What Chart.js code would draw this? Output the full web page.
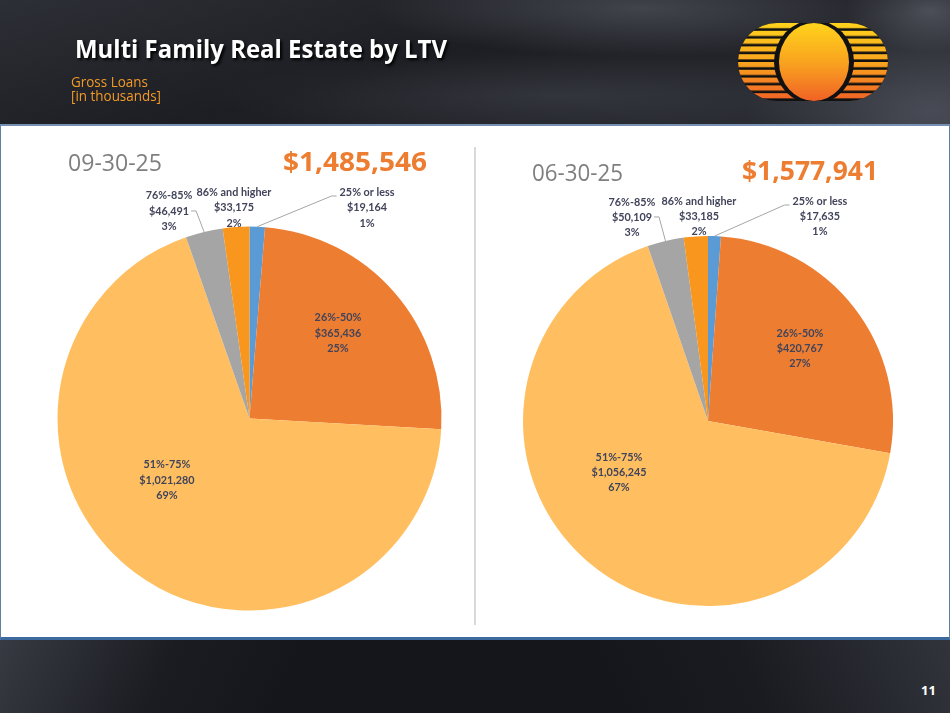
<!DOCTYPE html>
<html>
<head>
<meta charset="utf-8">
<title>Multi Family Real Estate by LTV</title>
<script src="https://cdn.jsdelivr.net/npm/chart.js@4.4.1/dist/chart.umd.min.js"></script>
<style>
html, body { margin: 0; padding: 0; }
body {
    width: 950px; height: 713px; position: relative; overflow: hidden;
    background: #1b1c21; font-family: "Open Sans", sans-serif;
}
#header {
    position: absolute; left: 0; top: 0; width: 950px; height: 126px;
    background:
        radial-gradient(ellipse 380px 70px at 640px 8px, rgba(150,155,172,0.30), rgba(150,155,172,0) 70%),
        radial-gradient(ellipse 120px 60px at 930px 10px, rgba(150,155,170,0.35), rgba(0,0,0,0) 70%),
        radial-gradient(ellipse 260px 150px at 930px 110px, rgba(130,135,150,0.35), rgba(0,0,0,0) 70%),
        radial-gradient(ellipse 500px 60px at 560px 95px, rgba(110,114,128,0.22), rgba(0,0,0,0) 70%),
        linear-gradient(165deg, #2d2f36 0%, #1d1e23 45%, #2b2d34 100%);
}
#footer {
    position: absolute; left: 0; top: 638px; width: 950px; height: 75px;
    background:
        linear-gradient(115deg, rgba(85,88,100,0.55) 0%, rgba(45,47,55,0.25) 18%, rgba(0,0,0,0) 32%),
        linear-gradient(245deg, rgba(85,88,100,0.45) 0%, rgba(45,47,55,0.2) 22%, rgba(0,0,0,0) 38%),
        #15161b;
}
#panel {
    position: absolute; left: 0; top: 124px; width: 950px; height: 516px;
    box-sizing: border-box; background: #fff;
    border-top: 2px solid #7590b0; border-bottom: 3px solid #3d6a9e;
    border-left: 1px solid #5e7fa6; border-right: 1px solid #5e7fa6;
}
#divider { position: absolute; left: 474px; top: 147px; width: 2px; height: 478px; background: #d9d9d9; }
.txt { position: absolute; white-space: nowrap; display: inline-block; transform-origin: left center; line-height: 1; }
#title { left: 75px; top: 36px; font-size: 25px; font-weight: 700; color: #fff; text-shadow: 2px 2px 3px #000; }
#sub { left: 71px; top: 75px; font-size: 14px; line-height: 14px; color: #f39a26; }
.date { font-size: 23px; color: #7f7f7f; }
.total { font-size: 27px; font-weight: 700; color: #ed7d31; }
#page { left: 921px; top: 684px; font-size: 13px; font-weight: 700; color: #fff; }
.box { position: absolute; top: 140px; width: 474px; height: 490px; }
#logo { position: absolute; left: 738px; top: 23px; }
</style>
</head>
<body>
<div id="header"></div>
<div id="footer"></div>
<div id="panel"></div>
<div id="divider"></div>

<svg id="logo" width="150" height="78" viewBox="0 0 150 78">
  <defs>
    <linearGradient id="sun" x1="0" y1="0" x2="0" y2="1">
      <stop offset="0" stop-color="#ffd31c"/>
      <stop offset="0.5" stop-color="#f9a41f"/>
      <stop offset="1" stop-color="#f06226"/>
    </linearGradient>
    <clipPath id="shape"><rect x="0" y="0" width="150" height="78" rx="39" ry="39"/></clipPath>
    <pattern id="stripes" width="150" height="7.8" patternUnits="userSpaceOnUse">
      <rect x="0" y="0" width="150" height="5.2" fill="#fff"/>
    </pattern>
    <mask id="bands"><rect x="0" y="0" width="150" height="78" fill="url(#stripes)"/></mask>
  </defs>
  <g clip-path="url(#shape)">
    <rect x="0" y="0" width="150" height="78" fill="#111"/>
    <rect x="0" y="0" width="150" height="78" fill="url(#sun)" mask="url(#bands)"/>
    <ellipse cx="76" cy="39" rx="40" ry="42" fill="#111"/>
    <ellipse cx="76" cy="39" rx="35" ry="39" fill="url(#sun)"/>
  </g>
</svg>

<div class="txt" id="title">Multi Family Real Estate by LTV</div>
<div class="txt" id="sub">Gross Loans<br>[in thousands]</div>

<div class="txt date" id="date1" style="left:68px; top:151px;">09-30-25</div>
<div class="txt total" id="total1" style="left:283px; top:147px;"></div>
<div class="txt date" id="date2" style="left:532px; top:161px;">06-30-25</div>
<div class="txt total" id="total2" style="left:742px; top:156px;"></div>

<div class="box" style="left:0px;"><canvas id="pieSep"></canvas></div>
<div class="box" style="left:476px;"><canvas id="pieJun"></canvas></div>

<div class="txt" id="page">11</div>

<script>
// LTV buckets, gross loans in thousands
var ltvBands = ["25% or less", "26%-50%", "51%-75%", "76%-85%", "86% and higher"];
var sepValues = [19164, 365436, 1021280, 46491, 33175];
var junValues = [17635, 420767, 1056245, 50109, 33185];
var sliceColors = ["#5b9bd5", "#ed7d31", "#ffbf60", "#a5a5a5", "#f8961d"];

function money(v) {
    return "$" + v.toLocaleString("en-US");
}

function sum(arr) {
    return arr.reduce(function(a, b) { return a + b; }, 0);
}

// squeeze a text box to a given width (the original uses a narrow font)
function fitWidth(id, w) {
    var el = document.getElementById(id);
    var natural = el.getBoundingClientRect().width;
    el.style.transform = "scaleX(" + (w / natural) + ")";
}

var sliceLabels = {
    id: "sliceLabels",
    afterDatasetsDraw: function(chart, args, opts) {
        var ctx = chart.ctx;
        var arcs = chart.getDatasetMeta(0).data;
        var values = chart.data.datasets[0].data;
        var total = sum(values);
        ctx.save();
        ctx.font = opts.font;
        ctx.fillStyle = opts.color;
        ctx.textAlign = "center";
        ctx.textBaseline = "middle";
        arcs.forEach(function(arc, i) {
            var spot = opts.spots[i];
            var r = arc.outerRadius;
            var x = arc.x + spot.dx * r;
            var y = arc.y + spot.dy * r;
            var lines = [chart.data.labels[i], money(values[i]), Math.round(values[i] / total * 100) + "%"];
            lines.forEach(function(t, k) {
                ctx.save();
                ctx.translate(x, y + (k - 1) * opts.lineHeight);
                ctx.scale(opts.squeeze, 1);
                ctx.fillText(t, 0, 0);
                ctx.restore();
            });
            if (spot.leader) {
                var mid = (arc.startAngle + arc.endAngle) / 2;
                var ex = arc.x + Math.cos(mid) * r;
                var ey = arc.y + Math.sin(mid) * r;
                var sx, sy, tx;
                if (spot.leader === "left") {
                    sx = x - ctx.measureText(lines[0]).width * opts.squeeze / 2 - 3;
                    sy = y - opts.lineHeight + 4;
                    tx = sx - 5;
                } else {
                    sx = x + ctx.measureText(lines[1]).width * opts.squeeze / 2 + 2;
                    sy = y;
                    tx = sx + 5;
                }
                ctx.beginPath();
                ctx.moveTo(sx, sy);
                ctx.lineTo(tx, sy);
                ctx.lineTo(ex, ey);
                ctx.strokeStyle = opts.leaderColor;
                ctx.lineWidth = 1;
                ctx.stroke();
            }
        });
        ctx.restore();
    }
};

function drawPie(canvasId, values, padding, spots, lineHeight) {
    var ctx = document.getElementById(canvasId).getContext("2d");
    return new Chart(ctx, {
        type: "pie",
        data: {
            labels: ltvBands,
            datasets: [{
                data: values,
                backgroundColor: sliceColors,
                borderWidth: 0,
                hoverBorderWidth: 0,
                hoverOffset: 0
            }]
        },
        options: {
            responsive: true,
            maintainAspectRatio: false,
            animation: false,
            events: [],
            layout: { padding: padding },
            plugins: {
                legend: { display: false },
                tooltip: { enabled: false },
                sliceLabels: {
                    font: "bold 12px Lato, 'Open Sans', sans-serif",
                    color: "#41445a",
                    leaderColor: "#a6a6a6",
                    squeeze: 0.9,
                    lineHeight: lineHeight,
                    spots: spots
                }
            }
        },
        plugins: [sliceLabels]
    });
}

document.getElementById("total1").textContent = money(sum(sepValues));
document.getElementById("total2").textContent = money(sum(junValues));

fitWidth("title", 372);
fitWidth("sub", 90);
fitWidth("date1", 94);
fitWidth("total1", 144);
fitWidth("date2", 91);
fitWidth("total2", 136);

drawPie("pieSep", sepValues,
    { left: 57.5, right: 32.5, top: 86.5, bottom: 19.5 },
    [
        { dx: 0.612, dy: -1.099, leader: "left" },
        { dx: 0.461, dy: -0.445 },
        { dx: -0.430, dy: 0.320 },
        { dx: -0.419, dy: -1.081, leader: "right" },
        { dx: -0.081, dy: -1.099 }
    ], 15.5);

drawPie("pieJun", junValues,
    { left: 47, right: 57, top: 96, bottom: 24 },
    [
        { dx: 0.605, dy: -1.108, leader: "left" },
        { dx: 0.497, dy: -0.395 },
        { dx: -0.481, dy: 0.276 },
        { dx: -0.411, dy: -1.103, leader: "right" },
        { dx: -0.049, dy: -1.108 }
    ], 15);
</script>
</body>
</html>
